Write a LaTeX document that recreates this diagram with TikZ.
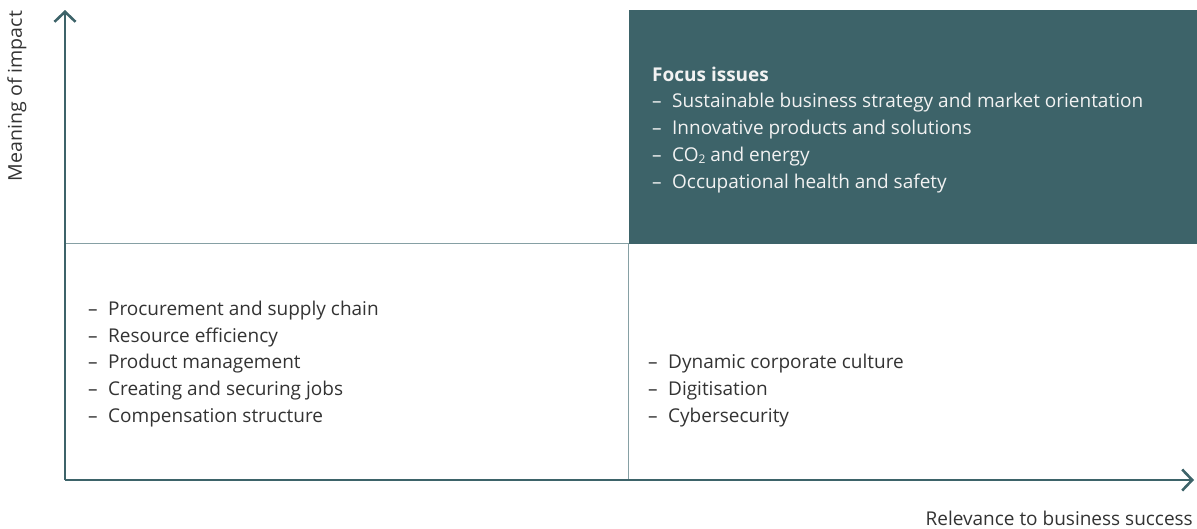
\documentclass[tikz,border=0pt]{standalone}
\usepackage{fontspec}
\setmainfont{Open Sans}
\usetikzlibrary{arrows.meta}
\definecolor{boxteal}{HTML}{3D6369}
\definecolor{axisc}{HTML}{3D6369}
\definecolor{divc}{HTML}{86A0A4}
\definecolor{txt}{HTML}{333333}
\definecolor{boxtxt}{HTML}{F2F2F2}
\newcommand{\dashitem}{–\hspace{0.55em}}
\begin{document}
\begin{tikzpicture}[x=1pt,y=-1pt,
  axis/.style={draw=axisc, line width=2.6pt, -{Straight Barb[length=10pt,width=21pt,line width=2.6pt]}},
  divider/.style={draw=divc, line width=1.5pt},
  listtext/.style={anchor=base west, align=left, inner sep=0pt, text=txt, font=\fontsize{19}{26.6}\selectfont},
  focustext/.style={anchor=base west, align=left, inner sep=0pt, text=boxtxt, font=\fontsize{19}{26.7}\selectfont},
  axislabel/.style={inner sep=0pt, text=txt, font=\fontsize{19}{22}\selectfont}]
\useasboundingbox (0,0) rectangle (1197,528);
% focus quadrant
\fill[boxteal] (629,10) rectangle (1197,244);
% coordinates
\coordinate (O) at (65,480);
\coordinate (Ytop) at (65,10);
\coordinate (Xend) at (1194,480);
\coordinate (divL) at (65,243.5);
\coordinate (divC) at (628.5,243.5);
\coordinate (divB) at (628.5,480);
% dividers
\draw[divider] (divL) -- (divC);
\draw[divider] (divC) -- (divB);
% axes
\draw[axis] (O) -- (Ytop);
\draw[axis] (O) -- (Xend);
% texts
\node[focustext] (focus) at (652,188) {\textbf{Focus issues}\\
\dashitem Sustainable business strategy and market orientation\\
\dashitem Innovative products and solutions\\
\dashitem CO\raisebox{-0.2ex}{\fontsize{12}{12}\selectfont 2} and energy\\
\dashitem Occupational health and safety};
\node[listtext] (low) at (88,422) {\dashitem Procurement and supply chain\\
\dashitem Resource efficiency\\
\dashitem Product management\\
\dashitem Creating and securing jobs\\
\dashitem Compensation structure};
\node[listtext] (right) at (648,422) {\dashitem Dynamic corporate culture\\
\dashitem Digitisation\\
\dashitem Cybersecurity};
\node[axislabel, rotate=90, anchor=center] (ylab) at (17,96) {\scalebox{1.03}[1]{Meaning of impact}};
\node[axislabel, anchor=east] (xlab) at (1193,518) {Relevance to business success};
\end{tikzpicture}
\end{document}
